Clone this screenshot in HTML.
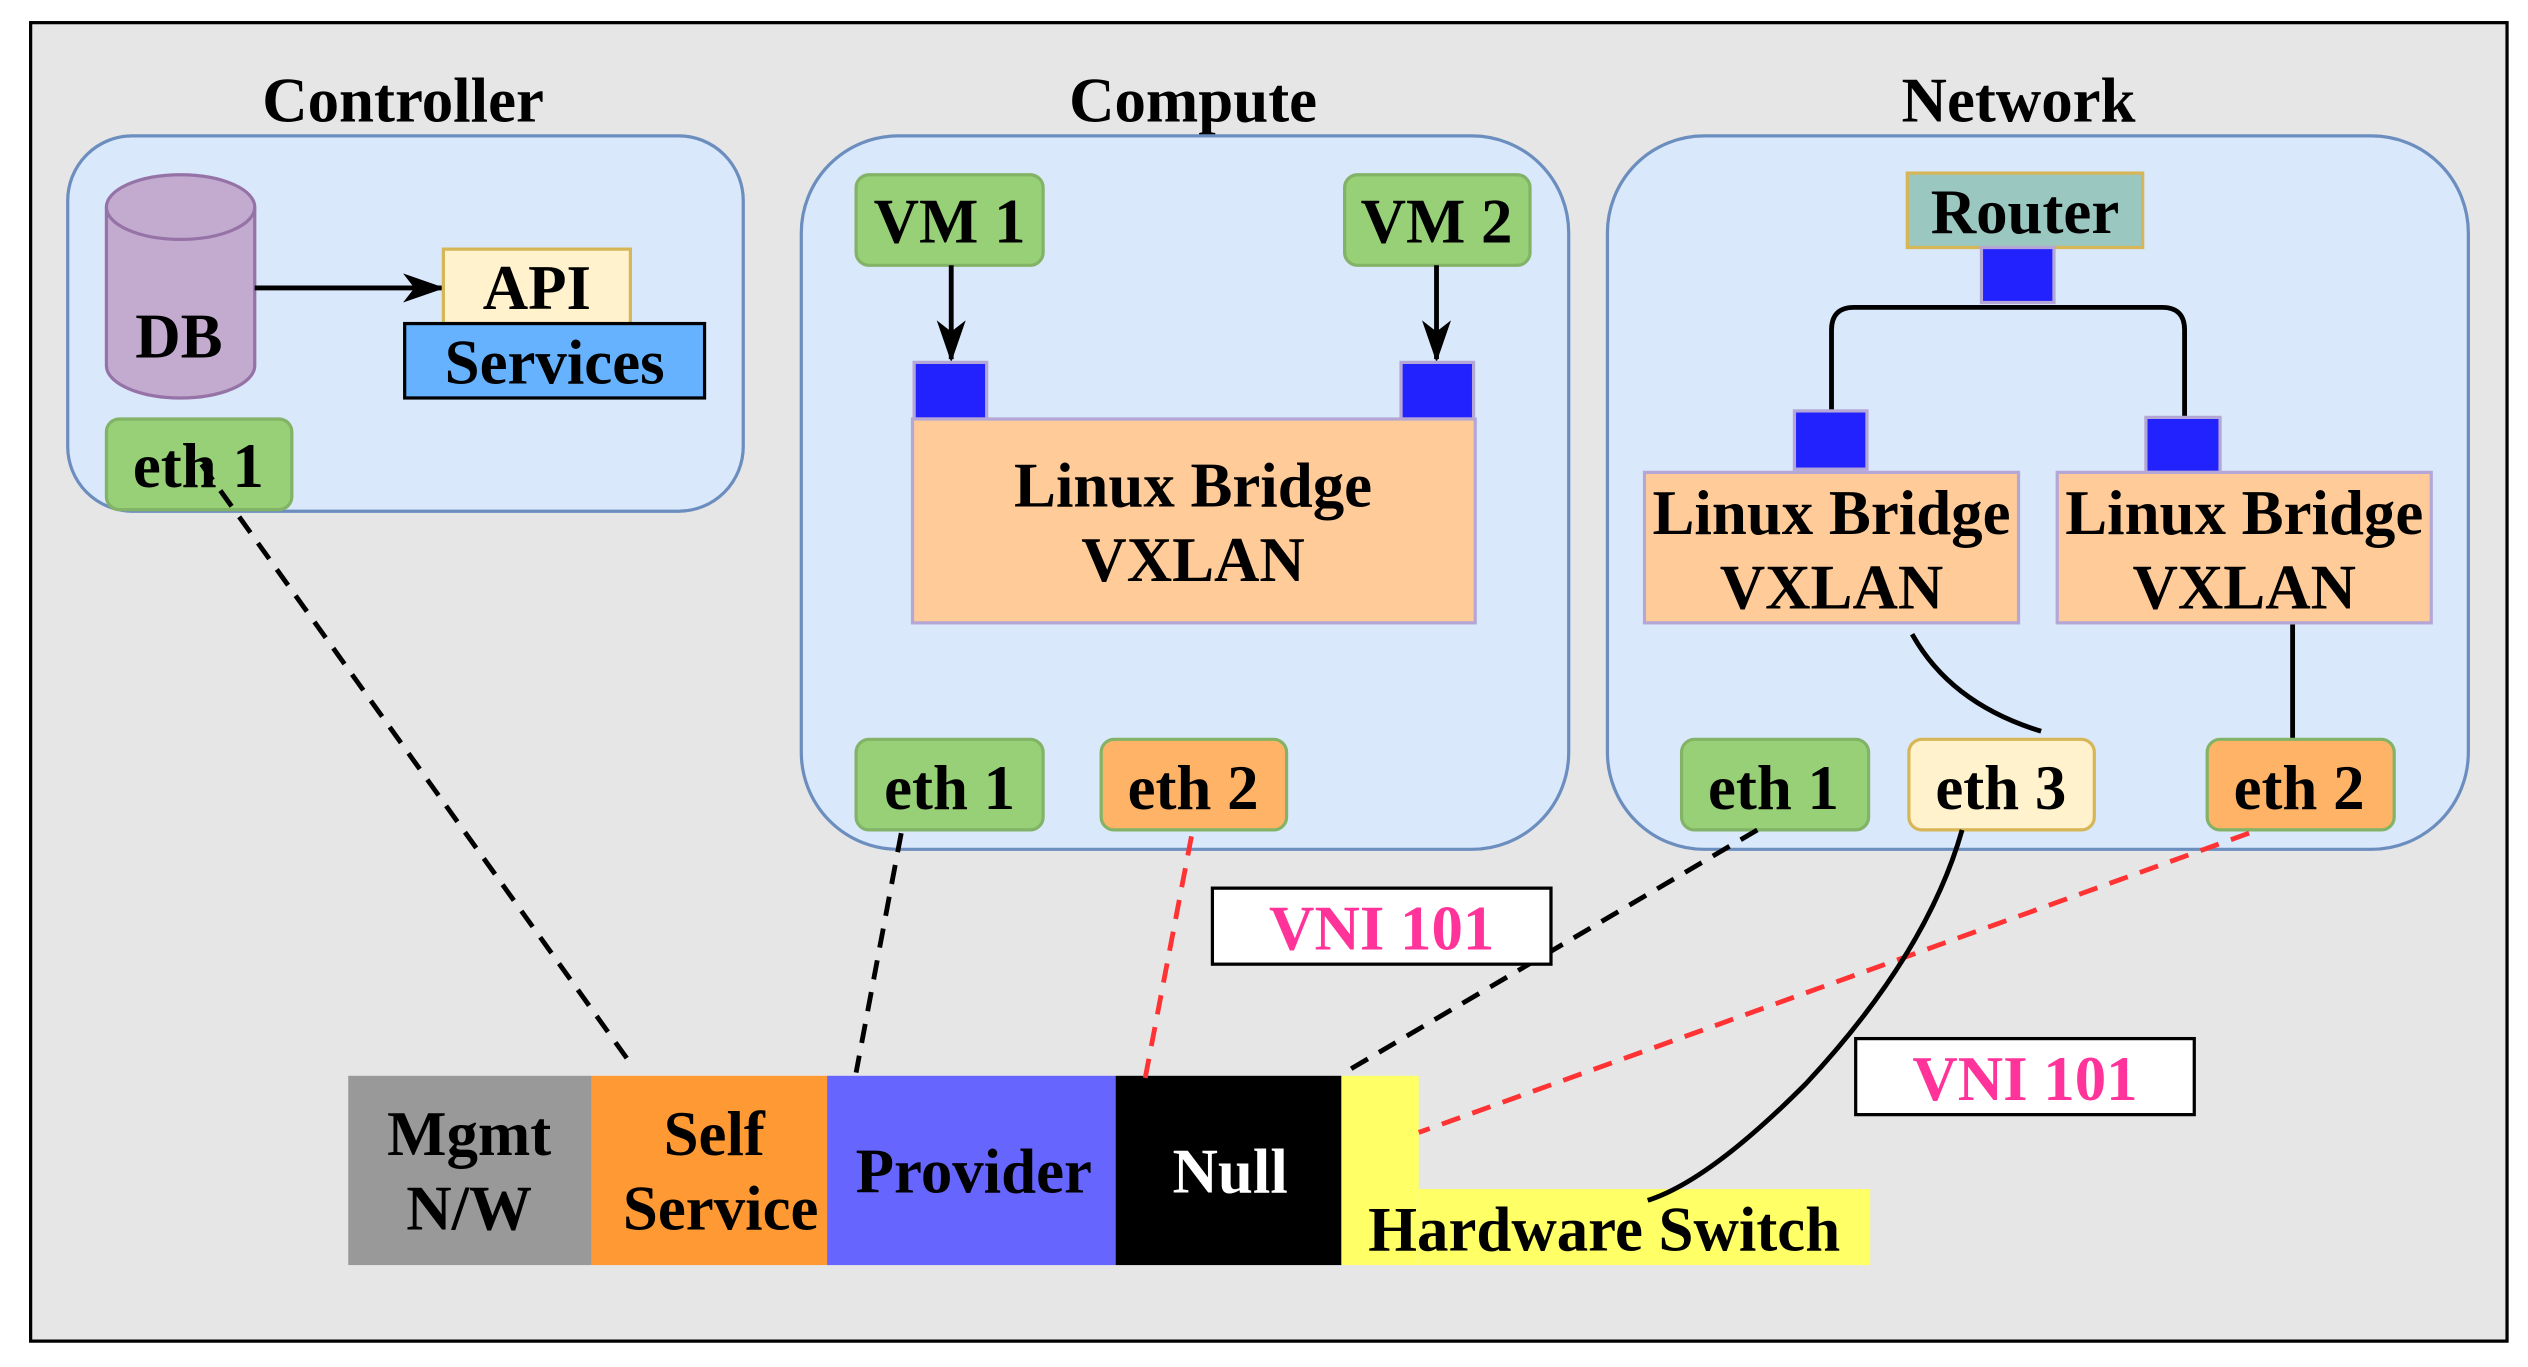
<!DOCTYPE html>
<html><head><meta charset="utf-8"><style>
html,body{margin:0;padding:0;background:#fff}
svg{display:block}
text{font-family:"Liberation Serif",serif;font-weight:bold;font-size:39px;text-anchor:middle}
</style></head><body>
<svg width="2528" height="1367" viewBox="0 0 1568 845" preserveAspectRatio="none" xmlns="http://www.w3.org/2000/svg">
<defs>
<marker id="ar" markerWidth="26" markerHeight="18" refX="24" refY="9" orient="auto" markerUnits="userSpaceOnUse" viewBox="0 0 26 18">
<path d="M0,0 L26,9 L0,18 L7,9 Z" fill="#000"/></marker>
</defs>
<rect x="19" y="14" width="1536" height="815" fill="#e6e6e6" stroke="#000" stroke-width="2"/>
<text x="250" y="75">Controller</text>
<text x="740" y="75">Compute</text>
<text x="1252" y="75">Network</text>

<rect x="42" y="84" width="419" height="232" rx="40" fill="#dae8fc" stroke="#6c8ebf" stroke-width="2"/>
<path d="M66,128 L66,226 A46,20 0 0 0 158,226 L158,128" fill="#c3abd0" stroke="#9673a6" stroke-width="2"/>
<ellipse cx="112" cy="128" rx="46" ry="20" fill="#c3abd0" stroke="#9673a6" stroke-width="2"/>
<text x="111" y="221">DB</text>
<line x1="158" y1="178" x2="274" y2="178" stroke="#000" stroke-width="3" marker-end="url(#ar)"/>
<rect x="275" y="154" width="116" height="46" fill="#fff2cc" stroke="#d6b656" stroke-width="2"/>
<text x="333" y="191">API</text>
<rect x="251" y="200" width="186" height="46" fill="#66b2ff" stroke="#000" stroke-width="2"/>
<text x="344" y="237">Services</text>
<rect x="66" y="259" width="115" height="56" rx="8" fill="#97d077" stroke="#82b366" stroke-width="2"/>
<text x="123" y="301">eth 1</text>

<rect x="497" y="84" width="476" height="441" rx="60" fill="#dae8fc" stroke="#6c8ebf" stroke-width="2"/>
<rect x="531" y="108" width="116" height="56" rx="8" fill="#97d077" stroke="#82b366" stroke-width="2"/>
<text x="589" y="150">VM 1</text>
<rect x="834" y="108" width="115" height="56" rx="8" fill="#97d077" stroke="#82b366" stroke-width="2"/>
<text x="891" y="150">VM 2</text>
<line x1="590" y1="164" x2="590" y2="222" stroke="#000" stroke-width="3" marker-end="url(#ar)"/>
<line x1="891" y1="164" x2="891" y2="222" stroke="#000" stroke-width="3" marker-end="url(#ar)"/>
<rect x="567" y="224" width="45" height="35" fill="#2222ff" stroke="#b4a7d6" stroke-width="2"/>
<rect x="869" y="224" width="45" height="35" fill="#2222ff" stroke="#b4a7d6" stroke-width="2"/>
<rect x="566" y="259" width="349" height="126" fill="#ffcc99" stroke="#b4a7d6" stroke-width="2"/>
<text x="740" y="313">Linux Bridge</text>
<text x="740" y="359">VXLAN</text>
<rect x="531" y="457" width="116" height="56" rx="8" fill="#97d077" stroke="#82b366" stroke-width="2"/>
<text x="589" y="500">eth 1</text>
<rect x="683" y="457" width="115" height="56" rx="8" fill="#ffb366" stroke="#82b366" stroke-width="2"/>
<text x="740" y="500">eth 2</text>

<rect x="997" y="84" width="534" height="441" rx="60" fill="#dae8fc" stroke="#6c8ebf" stroke-width="2"/>
<rect x="1183" y="107" width="146" height="46" fill="#9ac7bf" stroke="#d6b656" stroke-width="2"/>
<text x="1256" y="144">Router</text>
<path d="M1136,256 L1136,204 Q1136,190 1150,190 L1341,190 Q1355,190 1355,204 L1355,260" fill="none" stroke="#000" stroke-width="3"/>
<rect x="1229" y="153" width="45" height="34" fill="#2222ff" stroke="#b4a7d6" stroke-width="2"/>
<rect x="1113" y="254" width="45" height="36" fill="#2222ff" stroke="#b4a7d6" stroke-width="2"/>
<rect x="1331" y="258" width="46" height="34" fill="#2222ff" stroke="#b4a7d6" stroke-width="2"/>
<rect x="1020" y="292" width="232" height="93" fill="#ffcc99" stroke="#b4a7d6" stroke-width="2"/>
<text x="1136" y="330">Linux Bridge</text>
<text x="1136" y="376">VXLAN</text>
<rect x="1276" y="292" width="232" height="93" fill="#ffcc99" stroke="#b4a7d6" stroke-width="2"/>
<text x="1392" y="330">Linux Bridge</text>
<text x="1392" y="376">VXLAN</text>
<path d="M1186,392 Q1210,435 1266,452" fill="none" stroke="#000" stroke-width="3"/>
<line x1="1422" y1="386" x2="1422" y2="457" stroke="#000" stroke-width="3"/>
<rect x="1043" y="457" width="116" height="56" rx="8" fill="#97d077" stroke="#82b366" stroke-width="2"/>
<text x="1100" y="500">eth 1</text>
<rect x="1184" y="457" width="115" height="56" rx="8" fill="#fff2cc" stroke="#d6b656" stroke-width="2"/>
<text x="1241" y="500">eth 3</text>
<rect x="1369" y="457" width="116" height="56" rx="8" fill="#ffb366" stroke="#82b366" stroke-width="2"/>
<text x="1426" y="500">eth 2</text>

<rect x="216" y="665" width="151" height="117" fill="#999999"/>
<rect x="367" y="665" width="146" height="117" fill="#ff9933"/>
<rect x="513" y="665" width="179" height="117" fill="#6666ff"/>
<rect x="692" y="665" width="140" height="117" fill="#000"/>
<rect x="832" y="665" width="48" height="117" fill="#ffff66"/>
<rect x="880" y="735" width="280" height="47" fill="#ffff66"/>
<text x="291" y="714">Mgmt</text>
<text x="291" y="760">N/W</text>
<text x="443" y="714">Self</text>
<text x="447" y="760">Service</text>
<text x="604" y="737">Provider</text>
<text x="763" y="737" fill="#fff">Null</text>
<text x="995" y="773">Hardware Switch</text>

<g fill="none" stroke-width="3" stroke-dasharray="12,8">
<line x1="125" y1="287" x2="393" y2="660" stroke="#000"/>
<line x1="559" y1="515" x2="531" y2="663" stroke="#000"/>
<line x1="1090" y1="513" x2="834" y2="663" stroke="#000"/>
<line x1="739" y1="517" x2="710" y2="668" stroke="#ff3333"/>
<line x1="1395" y1="515" x2="880" y2="700" stroke="#ff3333"/>
</g>
<path d="M1217,513 Q1195,590 1120,670 Q1060,730 1022,742" fill="none" stroke="#000" stroke-width="3"/>

<rect x="752" y="549" width="210" height="47" fill="#fff" stroke="#000" stroke-width="2"/>
<text x="857" y="587" fill="#ff3399" font-weight="normal">VNI 101</text>
<rect x="1151" y="642" width="210" height="47" fill="#fff" stroke="#000" stroke-width="2"/>
<text x="1256" y="680" fill="#ff3399" font-weight="normal">VNI 101</text>
</svg>
</body></html>
